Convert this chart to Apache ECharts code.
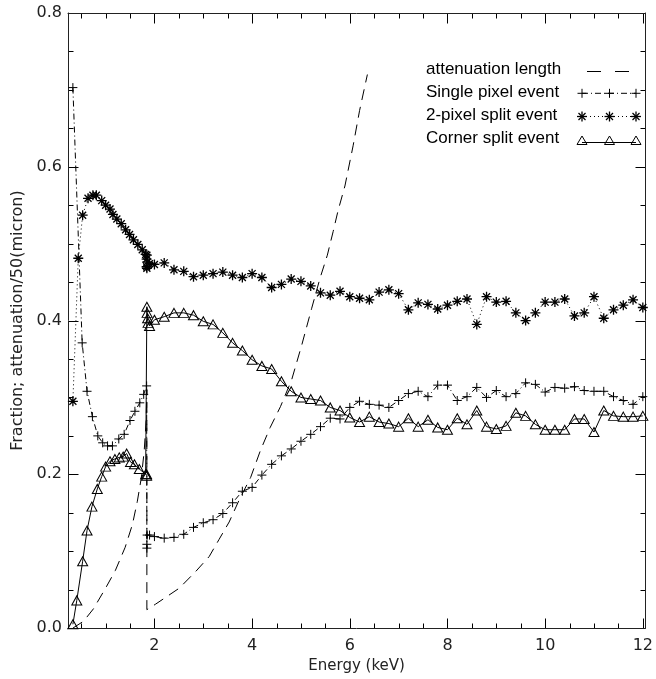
<!DOCTYPE html>
<html>
<head>
<meta charset="utf-8">
<title>Event fractions</title>
<script src="https://cdn.jsdelivr.net/npm/echarts@6/dist/echarts.min.js"></script>
<style>
  html, body { margin: 0; padding: 0; background: #fff; }
  #main { width: 656px; height: 679px; }
</style>
</head>
<body>
<div id="main"></div>
<script>
// attenuation length / 50 micron (dashed curve, Si K edge at ~1.84 keV)
var attenE = [0.33, 0.55, 0.75, 1.0, 1.2, 1.4, 1.55, 1.65, 1.73, 1.79, 1.83, 1.845, 1.845, 2.02, 2.51, 2.85, 3.12, 3.32, 3.53, 3.73, 3.97, 4.17, 4.37, 4.58, 4.81, 5.02, 5.22, 5.39, 5.54, 5.66, 5.76, 5.9, 6.07, 6.2, 6.36];
var attenY = [0.0, 0.009, 0.025, 0.052, 0.075, 0.105, 0.135, 0.165, 0.195, 0.23, 0.27, 0.31, 0.024, 0.031, 0.052, 0.074, 0.093, 0.115, 0.138, 0.166, 0.196, 0.231, 0.261, 0.288, 0.323, 0.369, 0.416, 0.455, 0.485, 0.516, 0.543, 0.575, 0.628, 0.673, 0.72];

// low energy part (up to the edge), each series has its own energies
var singleLowE = [0.33, 0.52, 0.62, 0.73, 0.84, 0.94, 1.04, 1.14, 1.27, 1.38, 1.5, 1.6, 1.7, 1.78, 1.84, 1.845, 1.845, 1.85, 1.9];
var singleLowY = [0.703, 0.371, 0.308, 0.275, 0.250, 0.241, 0.237, 0.237, 0.246, 0.252, 0.270, 0.282, 0.293, 0.304, 0.315, 0.104, 0.109, 0.121, 0.121];

var splitLowE = [0.33, 0.44, 0.53, 0.64, 0.74, 0.81, 0.92, 1.0, 1.09, 1.15, 1.23, 1.32, 1.41, 1.49, 1.57, 1.66, 1.75, 1.82, 1.84, 1.84, 1.845, 1.845, 1.85, 1.9];
var splitLowY = [0.295, 0.481, 0.537, 0.559, 0.563, 0.563, 0.556, 0.550, 0.545, 0.538, 0.532, 0.526, 0.518, 0.512, 0.505, 0.499, 0.492, 0.486, 0.480, 0.470, 0.485, 0.468, 0.476, 0.474];

var cornerLowE = [0.33, 0.41, 0.53, 0.62, 0.72, 0.83, 0.92, 1.0, 1.09, 1.19, 1.28, 1.36, 1.43, 1.51, 1.59, 1.69, 1.82, 1.84, 1.84, 1.845, 1.85, 1.86, 1.87, 1.9];
var cornerLowY = [0.005, 0.036, 0.087, 0.127, 0.158, 0.181, 0.197, 0.210, 0.217, 0.220, 0.222, 0.223, 0.227, 0.216, 0.213, 0.207, 0.200, 0.200, 0.198, 0.418, 0.410, 0.403, 0.397, 0.393];

// 0.2 keV grid above the edge
var gridE = [2.0, 2.2, 2.4, 2.6, 2.8, 3.0, 3.2, 3.4, 3.6, 3.8, 4.0, 4.2, 4.4, 4.6, 4.8, 5.0, 5.2, 5.4, 5.6, 5.8, 6.0, 6.2, 6.4, 6.6, 6.8, 7.0, 7.2, 7.4, 7.6, 7.8, 8.0, 8.2, 8.4, 8.6, 8.8, 9.0, 9.2, 9.4, 9.6, 9.8, 10.0, 10.2, 10.4, 10.6, 10.8, 11.0, 11.2, 11.4, 11.6, 11.8, 12.0];
var singleY = [0.119, 0.117, 0.118, 0.122, 0.131, 0.137, 0.141, 0.149, 0.163, 0.178, 0.183, 0.199, 0.213, 0.224, 0.233, 0.243, 0.252, 0.262, 0.273, 0.272, 0.287, 0.295, 0.291, 0.290, 0.287, 0.296, 0.305, 0.308, 0.301, 0.316, 0.316, 0.296, 0.301, 0.313, 0.300, 0.309, 0.301, 0.305, 0.319, 0.317, 0.307, 0.313, 0.312, 0.314, 0.309, 0.308, 0.308, 0.301, 0.296, 0.291, 0.301];
var splitY = [0.473, 0.475, 0.466, 0.464, 0.457, 0.459, 0.461, 0.463, 0.459, 0.456, 0.461, 0.456, 0.443, 0.447, 0.454, 0.451, 0.445, 0.436, 0.433, 0.438, 0.431, 0.429, 0.427, 0.437, 0.440, 0.435, 0.414, 0.423, 0.421, 0.415, 0.420, 0.425, 0.428, 0.395, 0.431, 0.424, 0.425, 0.410, 0.400, 0.410, 0.424, 0.424, 0.428, 0.406, 0.410, 0.431, 0.403, 0.414, 0.420, 0.427, 0.417];
var cornerY = [0.401, 0.405, 0.410, 0.410, 0.407, 0.399, 0.395, 0.384, 0.371, 0.361, 0.349, 0.341, 0.337, 0.321, 0.308, 0.300, 0.298, 0.296, 0.287, 0.283, 0.274, 0.268, 0.275, 0.268, 0.266, 0.262, 0.273, 0.262, 0.271, 0.261, 0.258, 0.273, 0.265, 0.283, 0.262, 0.259, 0.263, 0.280, 0.276, 0.265, 0.258, 0.258, 0.258, 0.272, 0.272, 0.255, 0.283, 0.276, 0.275, 0.275, 0.276];

// ticks
var xMajor = [2, 4, 6, 8, 10, 12];
var xMinor = [0.5, 1, 1.5, 2.5, 3, 3.5, 4.5, 5, 5.5, 6.5, 7, 7.5, 8.5, 9, 9.5, 10.5, 11, 11.5];
var yMajor = [0, 0.2, 0.4, 0.6, 0.8];
var yMinor = [0.05, 0.1, 0.15, 0.25, 0.3, 0.35, 0.45, 0.5, 0.55, 0.65, 0.7, 0.75];
var legendNames = ['attenuation length', 'Single pixel event', '2-pixel split event', 'Corner split event'];

var X_MIN = 0.23, X_MAX = 12.05, Y_MIN = 0, Y_MAX = 0.8;
var GRID = { left: 68, right: 7, top: 13, bottom: 47 };
var W = 656, H = 679;

var PLUS = 'path://M0,5L10,5M5,0L5,10';
var STAR = 'path://M0,5L10,5M5,0L5,10M1.5,1.5L8.5,8.5M1.5,8.5L8.5,1.5';
var TRI = 'path://M5,0L10,8.66L0,8.66Z';

function pairs(xs, ys) {
  return xs.map(function (x, i) { return [x, ys[i]]; });
}

var labelFont = { color: '#222', fontFamily: 'DejaVu Sans', fontSize: 16 };

function xAx(pos) {
  return {
    type: 'value', min: X_MIN, max: X_MAX, position: pos,
    splitLine: { show: false },
    axisLine: { show: true, onZero: false, lineStyle: { color: '#222', width: 1 } },
    axisTick: { show: false },
    axisLabel: { show: false }
  };
}
function yAx(pos) {
  return {
    type: 'value', min: Y_MIN, max: Y_MAX, interval: 0.2, position: pos,
    splitLine: { show: false },
    axisLine: { show: true, onZero: false, lineStyle: { color: '#222', width: 1 } },
    axisTick: { show: false },
    axisLabel: { show: false }
  };
}

var xAxes = [xAx('bottom'), xAx('top')];
xAxes[0].axisLabel = Object.assign({ show: true, customValues: xMajor, margin: 10 }, labelFont);
xAxes[0].name = 'Energy (keV)';
xAxes[0].nameLocation = 'middle';
xAxes[0].nameGap = 29;
xAxes[0].nameTextStyle = { color: '#222', fontFamily: 'DejaVu Sans', fontSize: 15 };

var yAxes = [yAx('left'), yAx('right')];
yAxes[0].axisLabel = Object.assign({ show: true, margin: 6, formatter: function (v) { return v.toFixed(1); } }, labelFont);
yAxes[0].name = 'Fraction; attenuation/50(micron)';
yAxes[0].nameLocation = 'middle';
yAxes[0].nameGap = 40;
yAxes[0].nameTextStyle = { color: '#222', fontFamily: 'DejaVu Sans', fontSize: 16 };

function lineSeries(name, data, symbol, dash, fill) {
  return {
    name: name, type: 'line', data: data, animation: false, smooth: false,
    symbol: symbol, symbolSize: symbol === TRI ? [10, 9] : (symbol === STAR ? 10 : 9),
    itemStyle: { color: fill || '#000', borderColor: '#000', borderWidth: symbol === STAR ? 1.3 : 1 },
    lineStyle: { color: '#000', width: 1, type: dash },
    emphasis: { disabled: true }
  };
}

var myChart = echarts.init(document.getElementById('main'), null, { renderer: 'canvas' });
myChart.setOption({
  backgroundColor: '#fff',
  animation: false,
  grid: GRID,
  xAxis: xAxes,
  yAxis: yAxes,
  series: [
    lineSeries(legendNames[0], pairs(attenE, attenY), 'none', [11, 7]),
    lineSeries(legendNames[1], pairs(singleLowE.concat(gridE), singleLowY.concat(singleY)), PLUS, [6, 3, 1, 3]),
    lineSeries(legendNames[2], pairs(splitLowE.concat(gridE), splitLowY.concat(splitY)), STAR, [1, 3]),
    lineSeries(legendNames[3], pairs(cornerLowE.concat(gridE), cornerLowY.concat(cornerY)), TRI, 'solid', 'rgba(255,255,255,0)')
  ]
});

function seg(x1, y1, x2, y2, w, dash) {
  var st = { stroke: '#000', lineWidth: w || 1, fill: 'none' };
  if (dash) st.lineDash = dash;
  return { type: 'polyline', silent: true, shape: { points: [[x1, y1], [x2, y2]] }, style: st };
}

// pixel position of a data point; ask the chart first, fall back to the grid box
function toPx(chart, x, y) {
  var p = null;
  try { p = chart.convertToPixel({ gridIndex: 0 }, [x, y]); } catch (e) { p = null; }
  if (!p || !isFinite(p[0]) || !isFinite(p[1])) {
    var gw = W - GRID.left - GRID.right, gh = H - GRID.top - GRID.bottom;
    p = [GRID.left + (x - X_MIN) / (X_MAX - X_MIN) * gw, H - GRID.bottom - (y - Y_MIN) / (Y_MAX - Y_MIN) * gh];
  }
  return [Math.round(p[0]) + 0.5, Math.round(p[1]) + 0.5];
}

// IDL style inward ticks on all four sides + hand drawn legend
function buildDecor(chart) {
  var out = [];
  var lb = toPx(chart, X_MIN, Y_MIN), rt = toPx(chart, X_MAX, Y_MAX);
  var xL = lb[0], yB = lb[1], xR = rt[0], yT = rt[1];
  function addX(vals, len) {
    vals.forEach(function (v) {
      var x = toPx(chart, v, Y_MIN)[0];
      out.push(seg(x, yB, x, yB - len));
      out.push(seg(x, yT, x, yT + len));
    });
  }
  function addY(vals, len) {
    vals.forEach(function (v) {
      var y = toPx(chart, X_MIN, v)[1];
      out.push(seg(xL, y, xL + len, y));
      out.push(seg(xR, y, xR - len, y));
    });
  }
  addX(xMajor, 10); addX(xMinor, 5);
  addY(yMajor, 10); addY(yMinor, 5);

  var rowY = [71.5, 93.3, 116.5, 140.5];
  var textY = [69, 92.3, 115, 138];
  var sampleX = [582, 609.5, 636];
  legendNames.forEach(function (t, i) {
    out.push({
      type: 'text', x: 426, y: textY[i], silent: true,
      style: { text: t, font: '17px "Liberation Sans"', fill: '#000', align: 'left', verticalAlign: 'middle', textAlign: 'left', textVerticalAlign: 'middle' }
    });
  });
  out.push(seg(587, rowY[0], 629, rowY[0], 1, [14, 14]));
  out.push(seg(sampleX[0], rowY[1], sampleX[2], rowY[1], 1, [6, 3, 1, 3]));
  out.push(seg(sampleX[0], rowY[2], sampleX[2], rowY[2], 1, [1, 3]));
  out.push(seg(sampleX[0], rowY[3] + 2, sampleX[2], rowY[3] + 2, 1));
  sampleX.forEach(function (x) {
    var y1 = rowY[1], y2 = rowY[2], y3 = rowY[3];
    out.push(seg(x - 4.5, y1, x + 4.5, y1), seg(x, y1 - 4.5, x, y1 + 4.5));
    out.push(seg(x - 5, y2, x + 5, y2, 1.3), seg(x, y2 - 5, x, y2 + 5, 1.3),
      seg(x - 3.5, y2 - 3.5, x + 3.5, y2 + 3.5, 1.3), seg(x - 3.5, y2 + 3.5, x + 3.5, y2 - 3.5, 1.3));
    out.push({ type: 'polyline', silent: true, shape: { points: [[x, y3 - 4.5], [x + 5, y3 + 4], [x - 5, y3 + 4], [x, y3 - 4.5]] }, style: { stroke: '#000', lineWidth: 1, fill: 'none' } });
  });
  return out;
}

myChart.setOption({ graphic: buildDecor(myChart) });
</script>
</body>
</html>
